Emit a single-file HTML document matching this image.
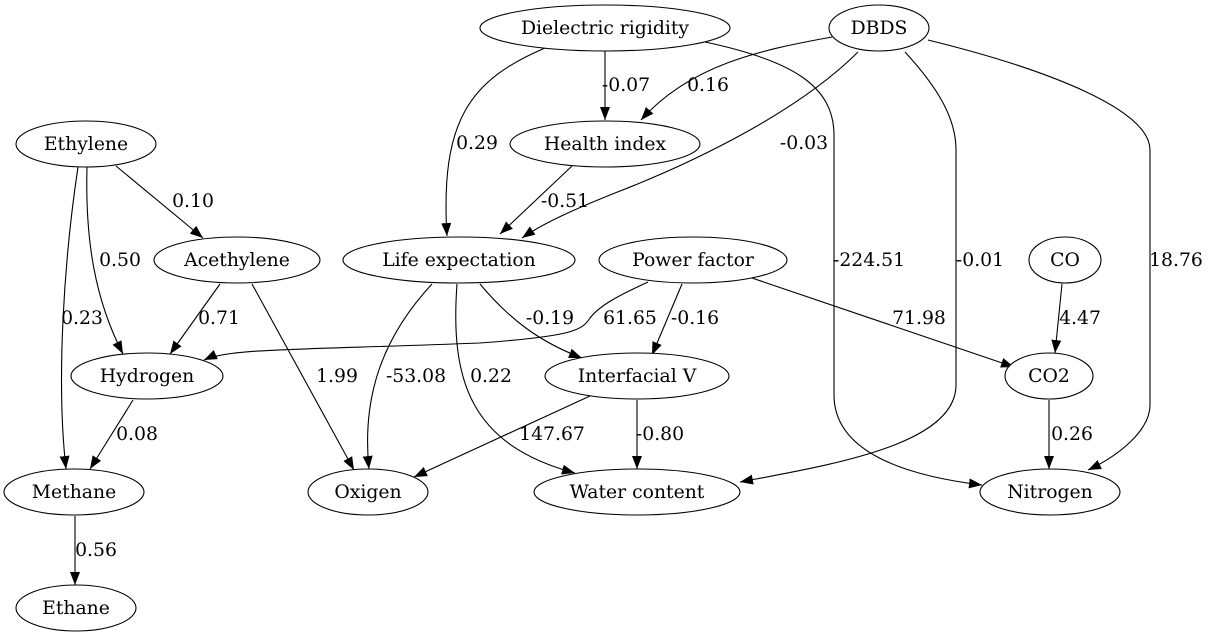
<!DOCTYPE html>
<html><head><meta charset="utf-8"><style>
html,body{margin:0;padding:0;background:#fff;}
svg{display:block;font-family:"DejaVu Serif","Liberation Serif",serif;font-size:18.8px;}
</style></head><body>
<svg id="g" width="1209" height="639" viewBox="0 0 1209 639">
<defs><marker id="ah" markerWidth="14" markerHeight="12" refX="13" refY="5" orient="auto" markerUnits="userSpaceOnUse"><path d="M0,0 L13,5 L0,10 Z" fill="#000"/></marker></defs>
</svg>
<script>
const nodeNames=["Dielectric rigidity","DBDS","Ethylene","Health index","Acethylene","Life expectation","Power factor","CO","Hydrogen","Interfacial V","CO2","Methane","Oxigen","Water content","Nitrogen","Ethane"];
const nodeLayout=[[605,28,125],[879,28,50],[86,144,70],[605,144,95],[237,260,83],[459,260,116],[693,260,94],[1065,260,36],[147,376,76],[637,376,92],[1049,376,44],[74,492,70],[368,492,60],[637,492,103],[1050,492,70],[76,608,60]];
const edgeLabels=["-0.07","0.16","0.29","-0.03","-0.51","-224.51","-0.01","18.76","0.10","0.50","0.23","0.71","1.99","-53.08","0.22","-0.19","61.65","-0.16","71.98","4.47","0.08","147.67","-0.80","0.26","0.56"];
const edgeRoutes=[
["M605,51 L605,120",626,85],
["M832,37 C760,50 690,65 641,120",708,85],
["M545,48 C470,80 440,120 447,236",477,143],
["M858,52 C800,110 700,160 615,193 C580,207 545,222 522,238",804,143],
["M572,166 L500,234",565,201],
["M705,42 C790,60 834,85 834,135 L834,395 C834,450 900,475 982,485",869,260],
["M905,52 C940,90 956,120 956,150 L956,385 C956,445 830,465 740,482",980,260],
["M928,40 C1050,70 1150,110 1150,150 L1150,405 C1150,430 1120,455 1088,470",1176,260],
["M116,166 L203,238",193,201],
["M87,167 C85,240 95,300 123,354",120,260],
["M78,167 C64,260 56,380 66,469",82,318],
["M220,284 L170,354",219,318],
["M252,284 L354,470",337,376],
["M432,284 C380,340 362,400 369,469",416,376],
["M457,284 C450,380 470,445 575,473",491,376],
["M480,284 C510,320 540,342 582,358",550,318],
["M648,282 C620,295 600,305 590,318 C582,330 575,336 480,343 C300,350 230,348 204,360",630,318],
["M682,284 L652,355",695,318],
["M752,278 L1014,367",919,318],
["M1062,284 L1055,353",1080,318],
["M133,400 L90,469",137,434],
["M590,396 L414,477",552,434],
["M637,400 L637,469",660,434],
["M1049,400 L1049,469",1072,434],
["M75,516 L75,585",96,550]];
const svg=document.getElementById('g');
const NS="http://www.w3.org/2000/svg";
edgeRoutes.forEach((r,i)=>{
  const p=document.createElementNS(NS,'path');
  p.setAttribute('d',r[0]);p.setAttribute('fill','none');p.setAttribute('stroke','#000');p.setAttribute('stroke-width','1.1');p.setAttribute('marker-end','url(#ah)');
  
  
  svg.appendChild(p);
  const t=document.createElementNS(NS,'text');
  t.setAttribute('x',r[1]);t.setAttribute('y',r[2]+6);t.setAttribute('text-anchor','middle');t.textContent=edgeLabels[i];
  
  
  svg.appendChild(t);
});
nodeNames.forEach((n,i)=>{
  const [cx,cy,rx]=nodeLayout[i];
  const g=document.createElementNS(NS,'g');
  
  
  const e=document.createElementNS(NS,'ellipse');
  e.setAttribute('cx',cx);e.setAttribute('cy',cy);e.setAttribute('rx',rx);e.setAttribute('ry',23);e.setAttribute('fill','#fff');e.setAttribute('stroke','#000');e.setAttribute('stroke-width','1.1');
  g.appendChild(e);
  const t=document.createElementNS(NS,'text');
  t.setAttribute('x',cx);t.setAttribute('y',cy+6);t.setAttribute('text-anchor','middle');t.textContent=n;
  g.appendChild(t);
  svg.appendChild(g);
});
</script>
</body></html>
